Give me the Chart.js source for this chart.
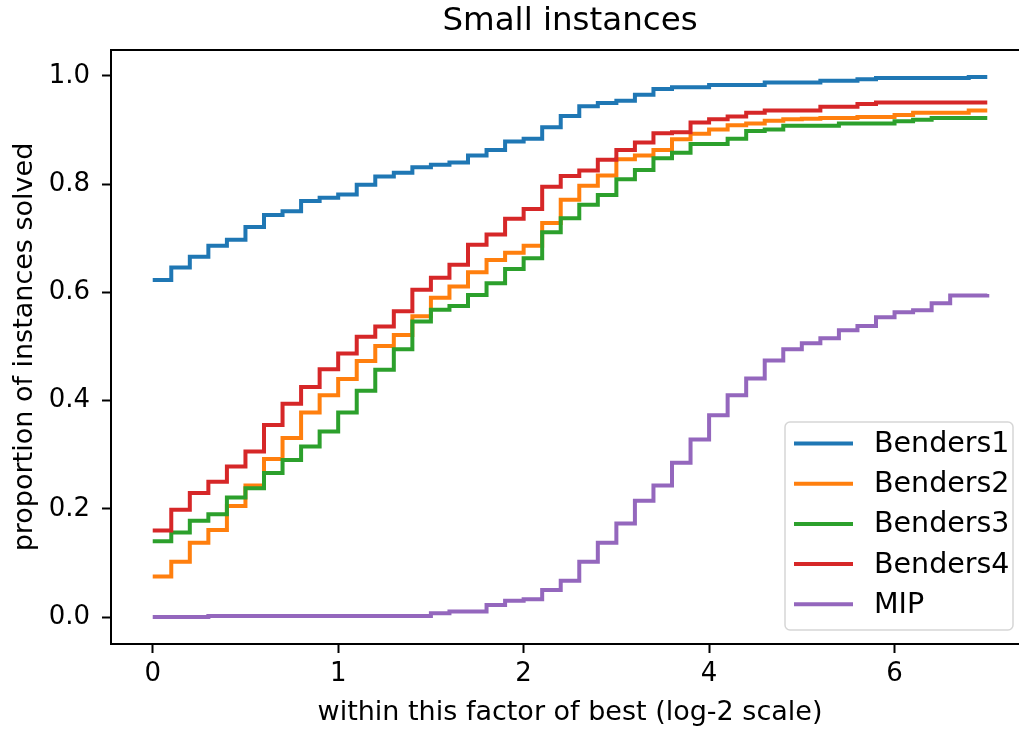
<!DOCTYPE html>
<html>
<head>
<meta charset="utf-8">
<script src="https://cdn.jsdelivr.net/npm/chart.js@4/dist/chart.umd.min.js"></script>
<style>
  html, body { margin: 0; padding: 0; background: #fff; overflow: hidden; }
  canvas { display: block; }
</style>
</head>
<body>
<canvas id="chart" width="1040" height="731"></canvas>
<script>
// x positions of the steps (log-2 factor), one every 0.1
const factors = [0.0, 0.1, 0.2, 0.3, 0.4, 0.5, 0.6, 0.7, 0.8, 0.9,
  1.0, 1.1, 1.2, 1.3, 1.4, 1.5, 1.6, 1.7, 1.8, 1.9,
  2.0, 2.1, 2.2, 2.3, 2.4, 2.5, 2.6, 2.7, 2.8, 2.9,
  3.0, 3.1, 3.2, 3.3, 3.4, 3.5, 3.6, 3.7, 3.8, 3.9,
  4.0, 4.1, 4.2, 4.3, 4.4, 4.5];

const benders1 = [0.623, 0.646, 0.666, 0.686, 0.697, 0.721, 0.743, 0.750, 0.769, 0.775,
  0.781, 0.799, 0.814, 0.821, 0.831, 0.836, 0.840, 0.853, 0.863, 0.879,
  0.884, 0.905, 0.926, 0.944, 0.950, 0.954, 0.965, 0.976, 0.979, 0.979,
  0.983, 0.983, 0.983, 0.988, 0.988, 0.988, 0.991, 0.991, 0.994, 0.996,
  0.996, 0.996, 0.996, 0.996, 0.998, 0.998];

const benders2 = [0.075, 0.102, 0.137, 0.161, 0.205, 0.243, 0.292, 0.331, 0.378, 0.410,
  0.440, 0.473, 0.501, 0.521, 0.556, 0.590, 0.611, 0.637, 0.660, 0.673,
  0.686, 0.728, 0.771, 0.797, 0.816, 0.846, 0.853, 0.863, 0.883, 0.893,
  0.901, 0.909, 0.912, 0.917, 0.920, 0.921, 0.922, 0.922, 0.924, 0.924,
  0.928, 0.932, 0.932, 0.932, 0.936, 0.936];

const benders3 = [0.140, 0.156, 0.178, 0.190, 0.221, 0.238, 0.266, 0.290, 0.315, 0.343,
  0.378, 0.418, 0.457, 0.495, 0.546, 0.568, 0.575, 0.595, 0.617, 0.643,
  0.663, 0.711, 0.737, 0.762, 0.780, 0.809, 0.826, 0.848, 0.858, 0.874,
  0.874, 0.884, 0.898, 0.901, 0.908, 0.908, 0.908, 0.912, 0.912, 0.912,
  0.916, 0.919, 0.922, 0.922, 0.922, 0.922];

const benders4 = [0.160, 0.198, 0.229, 0.250, 0.278, 0.306, 0.355, 0.394, 0.425, 0.458,
  0.487, 0.518, 0.537, 0.565, 0.605, 0.627, 0.651, 0.688, 0.707, 0.736,
  0.754, 0.795, 0.815, 0.825, 0.845, 0.863, 0.877, 0.894, 0.896, 0.914,
  0.920, 0.925, 0.932, 0.936, 0.936, 0.936, 0.943, 0.943, 0.948, 0.951,
  0.951, 0.951, 0.951, 0.951, 0.951, 0.951];

const mip = [0.000, 0.000, 0.000, 0.002, 0.002, 0.002, 0.002, 0.002, 0.002, 0.002,
  0.002, 0.002, 0.002, 0.002, 0.002, 0.007, 0.010, 0.010, 0.022, 0.030,
  0.033, 0.050, 0.067, 0.102, 0.137, 0.173, 0.215, 0.243, 0.285, 0.328,
  0.373, 0.410, 0.441, 0.474, 0.495, 0.506, 0.515, 0.530, 0.538, 0.554,
  0.563, 0.567, 0.580, 0.594, 0.594, 0.597];

const seriesNames = ['Benders1', 'Benders2', 'Benders3', 'Benders4', 'MIP'];
const seriesColors = ['#1f77b4', '#ff7f0e', '#2ca02c', '#d62728', '#9467bd'];

// tick positions and the labels printed under them
const xTickPositions = [0, 1, 2, 3, 4];
const xTickLabels = ['0', '1', '2', '4', '6'];
const yTickPositions = [0, 0.2, 0.4, 0.6, 0.8, 1.0];

const chartTitle = 'Small instances';
const FONT = "'DejaVu Sans', sans-serif";

Chart.defaults.font.family = FONT;
Chart.defaults.color = '#000';

const allSeries = [benders1, benders2, benders3, benders4, mip];
const datasets = allSeries.map((values, i) => ({
  label: seriesNames[i],
  data: factors.map((f, j) => ({ x: f, y: values[j] })),
  borderColor: seriesColors[i],
  backgroundColor: seriesColors[i],
  borderWidth: 4,
  pointRadius: 0,
  stepped: true,
  fill: false,
  order: allSeries.length - i, // later series drawn on top, like matplotlib
}));

// title centred on the axes, top/right frame lines, boxed legend inside the plot
const framePlugin = {
  id: 'frameAndLegend',
  afterDraw(chart) {
    const { ctx, chartArea } = chart;
    ctx.save();
    ctx.strokeStyle = '#000';
    ctx.lineWidth = 2;
    ctx.beginPath();
    ctx.moveTo(chartArea.left, chartArea.top);
    ctx.lineTo(chartArea.right, chartArea.top);
    ctx.lineTo(chartArea.right, chartArea.bottom);
    ctx.stroke();

    ctx.fillStyle = '#000';
    ctx.font = '32.5px ' + FONT;
    ctx.textAlign = 'center';
    ctx.textBaseline = 'middle';
    ctx.fillText(chartTitle, (chartArea.left + chartArea.right) / 2, 22);

    // legend box
    const boxW = 228, boxH = 208;
    const left = chartArea.right - 16 - boxW;
    const top = chartArea.bottom - 14 - boxH;
    const r = 5;
    ctx.beginPath();
    ctx.moveTo(left + r, top);
    ctx.arcTo(left + boxW, top, left + boxW, top + boxH, r);
    ctx.arcTo(left + boxW, top + boxH, left, top + boxH, r);
    ctx.arcTo(left, top + boxH, left, top, r);
    ctx.arcTo(left, top, left + boxW, top, r);
    ctx.closePath();
    ctx.fillStyle = 'rgba(255,255,255,0.8)';
    ctx.fill();
    ctx.strokeStyle = '#d6d6d6';
    ctx.lineWidth = 1.5;
    ctx.stroke();

    ctx.font = '28.5px ' + FONT;
    ctx.textBaseline = 'middle';
    ctx.textAlign = 'left';
    chart.data.datasets.forEach((ds, i) => {
      const y = top + 21.5 + i * 40.2;
      ctx.strokeStyle = ds.borderColor;
      ctx.lineWidth = 4;
      ctx.beginPath();
      ctx.moveTo(left + 9, y);
      ctx.lineTo(left + 68, y);
      ctx.stroke();
      ctx.fillStyle = '#000';
      ctx.fillText(ds.label, left + 89, y + 1);
    });
    ctx.restore();
  }
};

new Chart(document.getElementById('chart').getContext('2d'), {
  type: 'line',
  data: { datasets },
  options: {
    responsive: false,
    animation: false,
    devicePixelRatio: 1,
    layout: { padding: { left: 0, top: 50, right: 11, bottom: 0 } },
    plugins: {
      legend: { display: false },
      tooltip: { enabled: false },
      title: { display: false },
    },
    scales: {
      x: {
        type: 'linear',
        min: -0.225,
        max: 4.725,
        afterBuildTicks: scale => { scale.ticks = xTickPositions.map(v => ({ value: v })); },
        afterFit: scale => { scale.height = 87; },
        ticks: {
          font: { size: 26 },
          padding: 6,
          maxRotation: 0,
          callback: (value, index) => xTickLabels[index],
        },
        grid: {
          drawOnChartArea: false,
          drawTicks: true,
          tickLength: 9,
          tickWidth: 2,
          tickColor: '#000',
        },
        border: { display: true, color: '#000', width: 2 },
        title: {
          display: true,
          text: 'within this factor of best (log-2 scale)',
          font: { size: 27 },
          padding: { top: 0, bottom: 2 },
        },
      },
      y: {
        type: 'linear',
        min: -0.0499,
        max: 1.0479,
        afterBuildTicks: scale => { scale.ticks = yTickPositions.map(v => ({ value: v })); },
        afterFit: scale => { scale.width = 111; },
        ticks: {
          font: { size: 26 },
          padding: 12,
          callback: value => value.toFixed(1),
        },
        grid: {
          drawOnChartArea: false,
          drawTicks: true,
          tickLength: 9,
          tickWidth: 2,
          tickColor: '#000',
        },
        border: { display: true, color: '#000', width: 2 },
        title: {
          display: true,
          text: 'proportion of instances solved',
          font: { size: 27 },
          padding: { top: 9, bottom: 0 },
        },
      },
    },
  },
  plugins: [framePlugin],
});
</script>
</body>
</html>
